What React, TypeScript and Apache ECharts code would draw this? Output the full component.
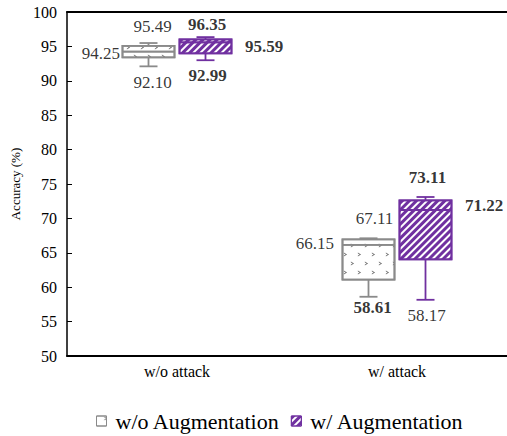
import React, { useEffect, useRef } from "react";
import * as echarts from "echarts";

// ---- data ----
const categories = ["w/o attack", "w/ attack"];
const seriesNames = ["w/o Augmentation", "w/ Augmentation"];
// [min, Q1, median, Q3, max]
const withoutAugBoxes = [
  [92.1, 93.41, 94.25, 95.09, 95.49],
  [58.61, 61.09, 66.15, 66.96, 67.11],
];
const withAugBoxes = [
  [92.99, 93.99, 95.59, 96.03, 96.35],
  [58.17, 64.05, 71.22, 72.63, 73.11],
];
const yMin = 50;
const yMax = 100;
const yInterval = 5;

// ---- styles ----
const FONT = "'Liberation Serif', 'Times New Roman', serif";
const GRAY = "#8a8a8a";
const PURPLE = "#7030a0";
const BOX_OFFSET = 28.5;
const BOX_WIDTH = 52;
const CAP_HALF = 9;
const GRID_LEFT = 67;
const GRID_WIDTH = 440;
const GRID_TOP = 12;
const GRID_BOTTOM = 80;

type Place = { stat: number; pos: string; dist: number; off: [number, number]; bold: boolean };
const grayPlaces: Place[][] = [
  [
    { stat: 4, pos: "top", dist: 8, off: [4, 0], bold: false },
    { stat: 2, pos: "left", dist: 28, off: [0, 1.5], bold: false },
    { stat: 0, pos: "bottom", dist: 7, off: [4, 0], bold: false },
  ],
  [
    { stat: 4, pos: "top", dist: 11, off: [6, 0], bold: false },
    { stat: 2, pos: "left", dist: 34, off: [0, -1.5], bold: false },
    { stat: 0, pos: "bottom", dist: 2, off: [4, 0], bold: true },
  ],
];
const purplePlaces: Place[][] = [
  [
    { stat: 4, pos: "top", dist: 4, off: [1.5, 0], bold: true },
    { stat: 2, pos: "right", dist: 39, off: [0, 4.5], bold: true },
    { stat: 0, pos: "bottom", dist: 6, off: [2, 0], bold: true },
  ],
  [
    { stat: 4, pos: "top", dist: 11, off: [2, 0], bold: true },
    { stat: 2, pos: "right", dist: 39, off: [0, -4.5], bold: true },
    { stat: 0, pos: "bottom", dist: 7, off: [1, 0], bold: false },
  ],
];

function labelData(boxes: number[][], places: Place[][]) {
  const out: any[] = [];
  boxes.forEach((box, ci) => {
    places[ci].forEach((p) => {
      const v = box[p.stat];
      out.push({
        value: [ci, v],
        label: {
          show: true,
          position: p.pos,
          distance: p.dist,
          offset: p.off,
          fontWeight: p.bold ? "bold" : "normal",
          formatter: v.toFixed(2),
        },
      });
    });
  });
  return out;
}

// box part only (Q1..Q3 with median); whiskers drawn separately with short caps
const boxOnly = (boxes: number[][]) => boxes.map((b) => [b[1], b[1], b[2], b[3], b[3]]);
const whiskerData = (boxes: number[][]) => boxes.map((b, i) => [i, b[0], b[1], b[3], b[4]]);

const grayDecal = {
  symbol: "path://M0,0L10,6L0,12L0,9L5,6L0,3Z",
  symbolSize: 0.8,
  color: "#777777",
  dashArrayX: [
    [5, 9],
    [0, 7, 5, 2],
  ],
  dashArrayY: [5, 4],
  rotation: 0,
};
const purpleDecal = {
  symbol: "rect",
  symbolSize: 1,
  color: PURPLE,
  dashArrayX: [1, 0],
  dashArrayY: [2.2, 2],
  rotation: -Math.PI / 4,
};

function whiskerSeries(boxes: number[][], color: string, axisIdx: number) {
  return {
    type: "custom",
    xAxisIndex: axisIdx,
    yAxisIndex: axisIdx - 1,
    silent: true,
    data: whiskerData(boxes),
    renderItem: (_params: any, api: any) => {
      const ci = api.value(0);
      const pMin = api.coord([ci, api.value(1)]);
      const pQ1 = api.coord([ci, api.value(2)]);
      const pQ3 = api.coord([ci, api.value(3)]);
      const pMax = api.coord([ci, api.value(4)]);
      const x = pMin[0];
      const st = { stroke: color, lineWidth: 1.8 };
      return {
        type: "group",
        children: [
          { type: "line", shape: { x1: x, y1: pQ3[1], x2: x, y2: pMax[1] }, style: st },
          { type: "line", shape: { x1: x - CAP_HALF, y1: pMax[1], x2: x + CAP_HALF, y2: pMax[1] }, style: st },
          { type: "line", shape: { x1: x, y1: pQ1[1], x2: x, y2: pMin[1] }, style: st },
          { type: "line", shape: { x1: x - CAP_HALF, y1: pMin[1], x2: x + CAP_HALF, y2: pMin[1] }, style: st },
        ],
      };
    },
  };
}

export default function App() {
  const ref = useRef<HTMLDivElement>(null);
  useEffect(() => {
    if (!ref.current) return;
    const chart = echarts.init(ref.current, null, { renderer: "svg" });
    const hiddenX = { type: "category", data: categories, show: false };
    const hiddenY = { type: "value", min: yMin, max: yMax, interval: yInterval, show: false };
    const labelStyle = { fontFamily: FONT, fontSize: 17, color: "#000" };
    const option: any = {
      animation: false,
      grid: [
        { left: GRID_LEFT, width: GRID_WIDTH, top: GRID_TOP, bottom: GRID_BOTTOM },
        { left: GRID_LEFT - BOX_OFFSET, width: GRID_WIDTH, top: GRID_TOP, bottom: GRID_BOTTOM },
        { left: GRID_LEFT + BOX_OFFSET, width: GRID_WIDTH, top: GRID_TOP, bottom: GRID_BOTTOM },
      ],
      xAxis: [
        {
          type: "category",
          data: categories,
          gridIndex: 0,
          position: "bottom",
          axisLine: { show: true, lineStyle: { color: "#000", width: 2 } },
          axisTick: { show: false },
          axisLabel: { fontFamily: FONT, fontSize: 16, color: "#000", margin: 7 },
        },
        {
          type: "category",
          data: categories,
          gridIndex: 0,
          position: "top",
          axisLine: { show: true, lineStyle: { color: "#000", width: 2 } },
          axisTick: { show: false },
          axisLabel: { show: false },
        },
        { ...hiddenX, gridIndex: 1 },
        { ...hiddenX, gridIndex: 2 },
      ],
      yAxis: [
        {
          type: "value",
          gridIndex: 0,
          min: yMin,
          max: yMax,
          interval: yInterval,
          name: "Accuracy (%)",
          nameLocation: "middle",
          nameGap: 41,
          nameTextStyle: { fontFamily: FONT, fontSize: 13, color: "#000" },
          axisLine: { show: true, lineStyle: { color: "#000", width: 1.5 } },
          axisTick: { show: true, inside: true, length: 5, lineStyle: { color: "#000" } },
          axisLabel: { fontFamily: FONT, fontSize: 16, color: "#000", margin: 10 },
          splitLine: { show: false },
        },
        { ...hiddenY, gridIndex: 1 },
        { ...hiddenY, gridIndex: 2 },
      ],
      legend: {
        data: [
          {
            name: seriesNames[0],
            itemStyle: { color: "#fff", borderColor: GRAY, borderWidth: 1, decal: grayDecal },
          },
          {
            name: seriesNames[1],
            itemStyle: { color: "#fff", borderColor: PURPLE, borderWidth: 1, decal: purpleDecal },
          },
        ],
        left: 91,
        top: 405,
        icon: "rect",
        itemWidth: 10,
        itemHeight: 10,
        itemGap: 11,
        textStyle: { fontFamily: FONT, fontSize: 22, color: "#000", padding: [0, 0, 0, 4] },
      },
      series: [
        {
          name: seriesNames[0],
          type: "boxplot",
          xAxisIndex: 2,
          yAxisIndex: 1,
          boxWidth: [BOX_WIDTH, BOX_WIDTH],
          data: boxOnly(withoutAugBoxes),
          itemStyle: { color: "#fff", borderColor: GRAY, borderWidth: 1.8, decal: grayDecal },
        },
        {
          name: seriesNames[1],
          type: "boxplot",
          xAxisIndex: 3,
          yAxisIndex: 2,
          boxWidth: [BOX_WIDTH, BOX_WIDTH],
          data: boxOnly(withAugBoxes),
          itemStyle: { color: "#fff", borderColor: PURPLE, borderWidth: 1.8, decal: purpleDecal },
        },
        whiskerSeries(withoutAugBoxes, GRAY, 2),
        whiskerSeries(withAugBoxes, PURPLE, 3),
        {
          type: "scatter",
          xAxisIndex: 2,
          yAxisIndex: 1,
          symbolSize: 1,
          itemStyle: { color: "transparent" },
          label: labelStyle,
          data: labelData(withoutAugBoxes, grayPlaces),
          silent: true,
        },
        {
          type: "scatter",
          xAxisIndex: 3,
          yAxisIndex: 2,
          symbolSize: 1,
          itemStyle: { color: "transparent" },
          label: labelStyle,
          data: labelData(withAugBoxes, purplePlaces),
          silent: true,
        },
      ],
    };
    chart.setOption(option);
    return () => chart.dispose();
  }, []);
  return (
    <div
      style={{
        position: "absolute",
        left: 0,
        top: 0,
        width: 507,
        height: 436,
        overflow: "hidden",
        background: "#fff",
      }}
    >
      <div ref={ref} style={{ width: 570, height: 436 }} />
    </div>
  );
}
